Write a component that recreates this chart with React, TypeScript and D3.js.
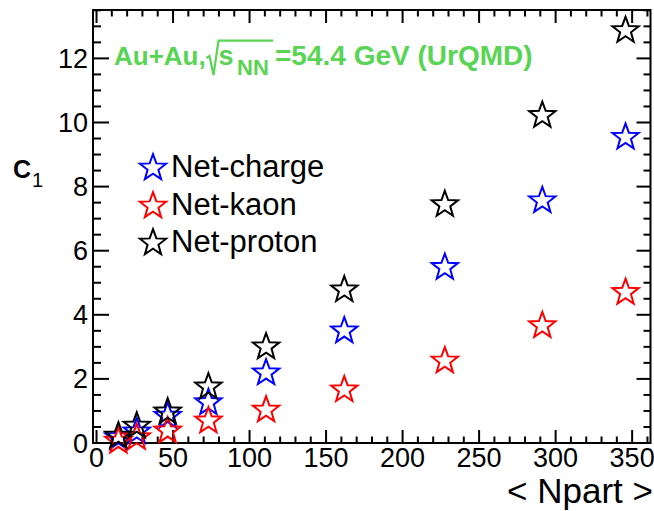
import React from "react";
import * as d3 from "d3";

// Mean participant number for each centrality class
const npart = [345.7, 291.3, 227.6, 161.9, 110.8, 73.1, 46.5, 26.3, 14.3];

// First cumulant C1 for each net quantity
const netCharge = [9.57, 7.59, 5.51, 3.53, 2.22, 1.29, 0.87, 0.38, 0.2];
const netKaon = [4.73, 3.69, 2.59, 1.69, 1.06, 0.72, 0.41, 0.2, 0.09];
const netProton = [12.9, 10.25, 7.47, 4.81, 3.03, 1.78, 1.0, 0.56, 0.25];

const seriesNames = ["Net-charge", "Net-kaon", "Net-proton"];
const seriesColors = ["#0000ff", "#ff0000", "#000000"];
const seriesValues = [netCharge, netKaon, netProton];

const xMajorTicks = [0, 50, 100, 150, 200, 250, 300, 350];
const yMajorTicks = [0, 2, 4, 6, 8, 10, 12];

const W = 654;
const H = 511;
const frame = { left: 93, right: 650.5, top: 10, bottom: 443 };

const x = d3.scaleLinear().domain([-2.3, 362]).range([frame.left, frame.right]);
const y = d3.scaleLinear().domain([0, 13.51]).range([frame.bottom, frame.top]);

function starPath(cx: number, cy: number, R: number, r: number): string {
  const pts: [number, number][] = [];
  for (let i = 0; i < 10; i++) {
    const a = -Math.PI / 2 + (i * Math.PI) / 5;
    const rad = i % 2 === 0 ? R : r;
    pts.push([cx + rad * Math.cos(a), cy + rad * Math.sin(a)]);
  }
  return d3.line()(pts) + "Z";
}

const STAR_R = 13.8;
const STAR_r = 5.7;
const FONT = "'Liberation Sans', Arial, Helvetica, sans-serif";

export default function App() {
  const xMinor = d3.range(0, 362, 10).filter((v) => v % 50 !== 0);
  const yMinor = d3.range(0.5, 13.51, 0.5).filter((v) => v % 2 !== 0);

  const xMajLen = 13;
  const xMinLen = 6.5;
  const yMajLen = 16;
  const yMinLen = 8;

  return (
    <svg
      width={W}
      height={H}
      style={{ position: "absolute", left: 0, top: 0, background: "#fff" }}
      fontFamily={FONT}
    >
      <rect x={0} y={0} width={W} height={H} fill="#fff" />

      {/* ticks on all four sides */}
      <g stroke="#000" strokeWidth={2}>
        {xMajorTicks.map((v) => (
          <g key={"xM" + v}>
            <line x1={x(v)} x2={x(v)} y1={frame.bottom} y2={frame.bottom - xMajLen} />
            <line x1={x(v)} x2={x(v)} y1={frame.top} y2={frame.top + xMajLen} />
          </g>
        ))}
        {xMinor.map((v) => (
          <g key={"xm" + v}>
            <line x1={x(v)} x2={x(v)} y1={frame.bottom} y2={frame.bottom - xMinLen} />
            <line x1={x(v)} x2={x(v)} y1={frame.top} y2={frame.top + xMinLen} />
          </g>
        ))}
        {yMajorTicks.map((v) => (
          <g key={"yM" + v}>
            <line x1={frame.left} x2={frame.left + yMajLen} y1={y(v)} y2={y(v)} />
            <line x1={frame.right} x2={frame.right - yMajLen + 2} y1={y(v)} y2={y(v)} />
          </g>
        ))}
        {yMinor.map((v) => (
          <g key={"ym" + v}>
            <line x1={frame.left} x2={frame.left + yMinLen} y1={y(v)} y2={y(v)} />
            <line x1={frame.right} x2={frame.right - yMinLen + 1} y1={y(v)} y2={y(v)} />
          </g>
        ))}
      </g>

      {/* frame */}
      <rect
        x={frame.left}
        y={frame.top}
        width={frame.right - frame.left}
        height={frame.bottom - frame.top}
        fill="none"
        stroke="#000"
        strokeWidth={2}
      />

      {/* tick labels */}
      <g fontSize={27} fill="#000">
        {xMajorTicks.map((v) => (
          <text key={"xl" + v} x={x(v)} y={467} textAnchor="middle">
            {v}
          </text>
        ))}
        {yMajorTicks.map((v) => (
          <text key={"yl" + v} x={88} y={y(v) + 9.5} textAnchor="end">
            {v}
          </text>
        ))}
      </g>

      {/* axis titles */}
      <text x={653} y={503} fontSize={35} textAnchor="end" fill="#000">
        {"< Npart >"}
      </text>
      <text x={13} y={178} fontSize={25} fontWeight="bold" fill="#000">
        C
      </text>
      <text x={32} y={187} fontSize={20} fill="#000">
        1
      </text>

      {/* header */}
      <g fill="#59d454" fontWeight="bold">
        <text x={114} y={65} fontSize={26}>
          Au+Au,
        </text>
        <path
          d="M206.5,58 L209.5,56 L213.5,75 L218.5,40.7 L273,40.7"
          fill="none"
          stroke="#59d454"
          strokeWidth={2.2}
        />
        <text x={218.5} y={65} fontSize={27}>
          s
        </text>
        <text x={237} y={75} fontSize={22}>
          NN
        </text>
        <text x={275} y={65} fontSize={28}>
          =54.4 GeV (UrQMD)
        </text>
      </g>

      {/* data markers */}
      {seriesValues.map((vals, si) => (
        <g key={"s" + si} fill="none" stroke={seriesColors[si]} strokeWidth={2}>
          {vals.map((v, i) => (
            <path key={i} d={starPath(x(npart[i]), y(v) + 1, STAR_R, STAR_r)} />
          ))}
        </g>
      ))}

      {/* legend */}
      {seriesNames.map((name, i) => {
        const base = [177, 215, 252][i];
        return (
          <g key={"lg" + i}>
            <path
              d={starPath(153, base - 9, STAR_R, STAR_r)}
              fill="none"
              stroke={seriesColors[i]}
              strokeWidth={2}
            />
            <text x={171} y={base} fontSize={31} fill="#000">
              {name}
            </text>
          </g>
        );
      })}
    </svg>
  );
}
